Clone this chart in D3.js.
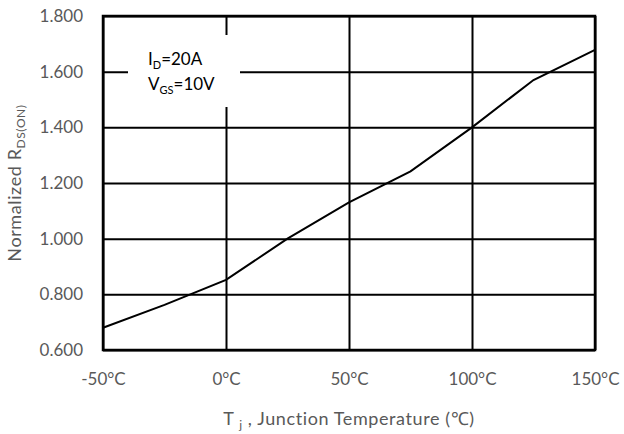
<!DOCTYPE html>
<html>
<head>
<meta charset="utf-8">
<script src="https://cdn.jsdelivr.net/npm/d3@7"></script>
<style>
body { margin: 0; background: #fff; }
text { font-family: Lato, "Open Sans", sans-serif; }
</style>
</head>
<body>
<div id="chart"></div>
<script>
// junction temperature (C) and normalized Rds(on)
var temps = [-50, -25, 0, 25, 50, 75, 100, 125, 150];
var rdsNorm = [0.680, 0.762, 0.852, 1.000, 1.130, 1.242, 1.400, 1.570, 1.678];
var xTicks = [-50, 0, 50, 100, 150];
var yTicks = [0.6, 0.8, 1.0, 1.2, 1.4, 1.6, 1.8];

var W = 624, H = 434;
// plot box (note: "top" is reserved on window, so use p* names)
var pLeft = 103, pRight = 595, pTop = 16, pBottom = 350;

var svg = d3.select("#chart").append("svg")
  .attr("width", W)
  .attr("height", H);

var x = d3.scaleLinear().domain([-50, 150]).range([pLeft, pRight]);
var y = d3.scaleLinear().domain([0.6, 1.8]).range([pBottom, pTop]);

// horizontal grid + labels
var yAxis = svg.append("g")
  .attr("transform", "translate(" + pLeft + ",0)")
  .call(d3.axisLeft(y).tickValues(yTicks).tickFormat(d3.format(".3f"))
    .tickSize(-(pRight - pLeft)).tickPadding(20));
yAxis.select(".domain").remove();
yAxis.selectAll("line").attr("stroke", "#000").attr("stroke-width", 2);
yAxis.selectAll("text").attr("fill", "#595959").style("font-size", "17px");

// vertical grid + labels
var xAxis = svg.append("g")
  .attr("transform", "translate(0," + pBottom + ")")
  .call(d3.axisBottom(x).tickValues(xTicks).tickFormat(function(d){ return d + "°C"; })
    .tickSize(-(pBottom - pTop)).tickPadding(23));
xAxis.select(".domain").remove();
xAxis.selectAll("line").attr("stroke", "#000").attr("stroke-width", 2);
xAxis.selectAll("text").attr("fill", "#595959").style("font-size", "17px");

// condition box
svg.append("rect")
  .attr("x", 128).attr("y", 35)
  .attr("width", 112).attr("height", 72)
  .attr("fill", "#fff");

var t1 = svg.append("text").attr("x", 148).attr("y", 65)
  .attr("fill", "#000").style("font-size", "17px");
t1.append("tspan").text("I");
t1.append("tspan").attr("dy", 4).style("font-size", "11px").text("D");
t1.append("tspan").attr("dy", -4).text("=20A");

var t2 = svg.append("text").attr("x", 148).attr("y", 90)
  .attr("fill", "#000").style("font-size", "17px");
t2.append("tspan").text("V");
t2.append("tspan").attr("dy", 4).style("font-size", "11px").text("GS");
t2.append("tspan").attr("dy", -4).text("=10V");

// the curve
var line = d3.line()
  .x(function(d, i){ return x(temps[i]); })
  .y(function(d){ return y(d); });

svg.append("path")
  .datum(rdsNorm)
  .attr("d", line)
  .attr("fill", "none")
  .attr("stroke", "#000")
  .attr("stroke-width", 2);

// frame
svg.append("rect")
  .attr("x", pLeft).attr("y", pTop)
  .attr("width", pRight - pLeft).attr("height", pBottom - pTop)
  .attr("fill", "none")
  .attr("stroke", "#000")
  .attr("stroke-width", 2.5);

// axis titles
var yt = svg.append("text")
  .attr("transform", "translate(21," + ((pTop + pBottom) / 2) + ") rotate(-90)")
  .attr("text-anchor", "middle")
  .attr("fill", "#595959").style("font-size", "18px")
  .style("letter-spacing", "0.6px");
yt.append("tspan").text("Normalized R");
yt.append("tspan").attr("dy", 4).style("font-size", "12px").text("DS(ON)");

var xt = svg.append("text")
  .attr("x", (pLeft + pRight) / 2).attr("y", 425)
  .attr("text-anchor", "middle")
  .attr("fill", "#595959").style("font-size", "18px")
  .style("letter-spacing", "0.6px");
xt.append("tspan").text("T ");
xt.append("tspan").attr("dy", 4).style("font-size", "12px").text("j");
xt.append("tspan").attr("dy", -4).text(" , Junction Temperature (℃)");
</script>
</body>
</html>
